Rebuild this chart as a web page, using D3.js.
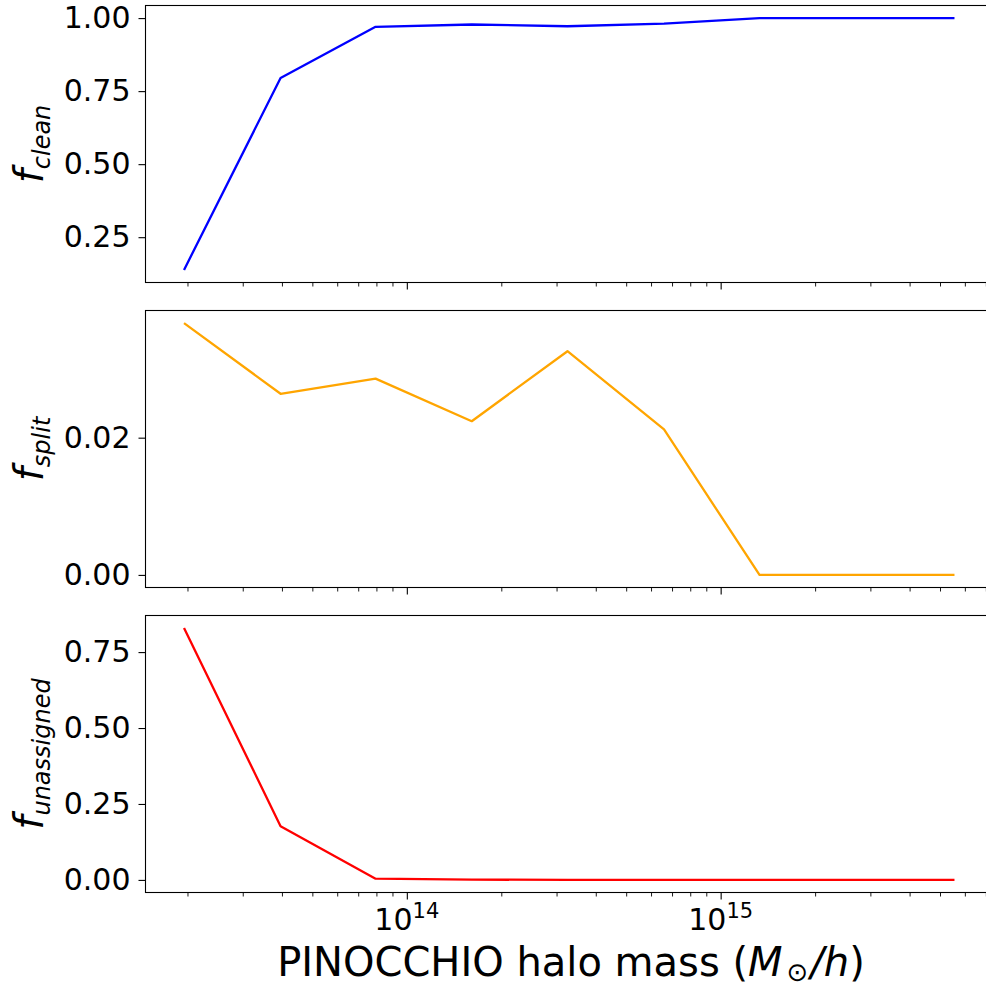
<!DOCTYPE html>
<html>
<head>
<meta charset="utf-8">
<script src="https://cdn.jsdelivr.net/npm/d3@7/dist/d3.min.js"></script>
<style>
  html, body { margin: 0; padding: 0; background: #fff; }
  svg { display: block; }
  text { font-family: "DejaVu Sans", sans-serif; fill: #000; }
</style>
</head>
<body>
<div id="chart"></div>
<script>
// ---- data ----
const haloMass = [1.95e13, 3.96e13, 7.95e13, 1.61e14, 3.25e14, 6.6e14, 1.33e15, 2.72e15, 5.56e15];
const fClean = [0.138, 0.795, 0.970, 0.978, 0.972, 0.981, 1.0, 1.0, 1.0];
const fSplit = [0.0367, 0.0264, 0.0286, 0.0224, 0.0326, 0.0212, 0.0, 0.0, 0.0];
const fUnassigned = [0.829, 0.177, 0.004, 0.001, 0.0, 0.0, 0.0, 0.0, 0.0];
const panelSubscripts = ["clean", "split", "unassigned"];
const panelColors = ["#0000ff", "#ffa500", "#ff0000"];
const yTickValues = [[0.25, 0.50, 0.75, 1.00], [0.00, 0.02], [0.00, 0.25, 0.50, 0.75]];
const xMajorTicks = [1e14, 1e15];
const xMajorExponents = ["14", "15"];
const xLabelParts = ["PINOCCHIO halo mass (", "M", "⊙", "/h", ")"];

// ---- layout ----
const W = 986, H = 990;
const left = 145.5, right = 993;
const panels = [
  { top: 5.5, bottom: 282.5 },
  { top: 310.5, bottom: 587.5 },
  { top: 615.5, bottom: 892.5 }
];
const series = [fClean, fSplit, fUnassigned];
const tickFont = 30;

const svg = d3.select("#chart").append("svg").attr("width", W).attr("height", H);

// x scale: log with 5% margins (like matplotlib autoscale)
const lx0 = Math.log10(d3.min(haloMass)), lx1 = Math.log10(d3.max(haloMass));
const xpad = 0.05 * (lx1 - lx0);
const x = d3.scaleLog().domain([10 ** (lx0 - xpad), 10 ** (lx1 + xpad)]).range([left, right]);

// minor ticks
const minorTicks = [];
for (let e = 13; e <= 15; e++) {
  for (let k = 2; k <= 9; k++) {
    const v = k * 10 ** e;
    if (v >= x.domain()[0] && v <= x.domain()[1]) minorTicks.push(v);
  }
}

series.forEach((vals, i) => {
  const p = panels[i];
  const lo = d3.min(vals), hi = d3.max(vals);
  const pad = 0.05 * (hi - lo);
  const y = d3.scaleLinear().domain([lo - pad, hi + pad]).range([p.bottom, p.top]);
  const g = svg.append("g");

  const data = haloMass.map((m, j) => ({ m, v: vals[j] }));
  g.append("path")
    .datum(data)
    .attr("fill", "none")
    .attr("stroke", panelColors[i])
    .attr("stroke-width", 2.3)
    .attr("stroke-linejoin", "round")
    .attr("d", d3.line().x(d => x(d.m)).y(d => y(d.v)));

  // y axis
  const ya = g.append("g")
    .attr("transform", `translate(${left},0)`)
    .call(d3.axisLeft(y).tickValues(yTickValues[i]).tickSize(7).tickPadding(8).tickFormat(d3.format(".2f")));
  ya.select(".domain").remove();
  ya.selectAll("line").attr("stroke", "#000").attr("stroke-width", 1.1);
  ya.selectAll("text").attr("font-size", tickFont).attr("font-family", "DejaVu Sans").attr("fill", "#000");

  // x axis major & minor ticks
  const xa = g.append("g")
    .attr("transform", `translate(0,${p.bottom})`)
    .call(d3.axisBottom(x).tickValues(xMajorTicks).tickSize(7).tickFormat(""));
  xa.select(".domain").remove();
  xa.selectAll("line").attr("stroke", "#000").attr("stroke-width", 1.1);
  const xm = g.append("g")
    .attr("transform", `translate(0,${p.bottom})`)
    .call(d3.axisBottom(x).tickValues(minorTicks).tickSize(4).tickFormat(""));
  xm.select(".domain").remove();
  xm.selectAll("line").attr("stroke", "#000").attr("stroke-width", 0.9);

  // frame
  g.append("rect")
    .attr("x", left).attr("y", p.top)
    .attr("width", right - left).attr("height", p.bottom - p.top)
    .attr("fill", "none").attr("stroke", "#000").attr("stroke-width", 1.1);

  // y label
  const yc = (p.top + p.bottom) / 2;
  const lab = g.append("text")
    .attr("transform", `translate(43,${yc}) rotate(-90)`)
    .attr("text-anchor", "middle");
  lab.append("tspan").attr("font-size", 40).attr("font-style", "italic").text("f");
  lab.append("tspan").attr("font-size", 24).attr("font-style", "italic").attr("dy", 7).text(panelSubscripts[i]);

  // x tick labels on bottom panel only
  if (i === 2) {
    xMajorTicks.forEach((t, k) => {
      const tx = g.append("text")
        .attr("x", x(t)).attr("y", 930)
        .attr("text-anchor", "middle")
        .attr("font-size", tickFont);
      tx.append("tspan").text("10");
      tx.append("tspan").attr("font-size", 21).attr("dy", -12).text(xMajorExponents[k]);
    });
  }
});

// x axis label
const xl = svg.append("text")
  .attr("x", 571)
  .attr("y", 976)
  .attr("text-anchor", "middle")
  .attr("font-size", 40);
xl.append("tspan").text(xLabelParts[0]);
xl.append("tspan").attr("font-style", "italic").text(xLabelParts[1]);
xl.append("tspan").attr("font-size", 26).attr("dx", 4).attr("dy", 5).text(xLabelParts[2]);
xl.append("tspan").attr("font-style", "italic").attr("dx", 2).attr("dy", -5).text(xLabelParts[3]);
xl.append("tspan").text(xLabelParts[4]);
</script>
</body>
</html>
